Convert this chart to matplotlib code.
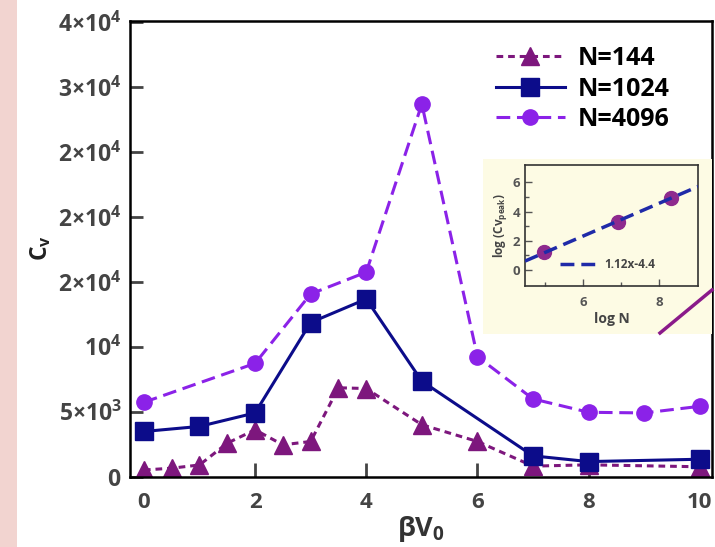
import matplotlib
matplotlib.use("Agg")
import matplotlib.pyplot as plt
from matplotlib.patches import Rectangle
from matplotlib.lines import Line2D
from matplotlib import font_manager as fm
import numpy as np


def pick_bold_family():
    cands = ['Open Sans', 'Noto Sans', 'Lato', 'Roboto', 'Liberation Sans', 'DejaVu Sans']
    for fam in cands:
        for f in fm.fontManager.ttflist:
            w = f.weight if isinstance(f.weight, int) else (700 if 'bold' in str(f.weight).lower() else 400)
            if f.name == fam and w >= 700 and '[' not in f.fname and f.style == 'normal' \
                    and f.stretch == 'normal':
                return fam, f.fname
    return 'DejaVu Sans', None


FAM, BOLD_FILE = pick_bold_family()
plt.rcParams['font.family'] = [FAM, 'DejaVu Sans']
plt.rcParams['font.weight'] = 'bold'
plt.rcParams['mathtext.fontset'] = 'custom'
plt.rcParams['mathtext.rm'] = FAM + ':bold'
plt.rcParams['mathtext.bf'] = FAM + ':bold'
plt.rcParams['mathtext.it'] = FAM + ':bold'
plt.rcParams['mathtext.default'] = 'rm'

# ---------------- data ----------------
x144 = [0, 0.5, 1, 1.5, 2, 2.5, 3, 3.5, 4, 5, 6, 7, 8, 10]
cv144 = [500, 640, 890, 2570, 3600, 2440, 2700, 6840, 6780, 3990, 2700, 800, 900, 750]

x1024 = [0, 1, 2, 3, 4, 5, 7, 8, 10]
cv1024 = [3470, 3860, 4900, 11870, 13680, 7350, 1590, 1150, 1330]

x4096 = [0, 2, 3, 4, 5, 6, 7, 8, 9, 10]
cv4096 = [5720, 8720, 14070, 15750, 28710, 9240, 5980, 4950, 4900, 5410]

labels = ['N=144', 'N=1024', 'N=4096']

yticks = [0, 5000, 10000, 15000, 20000, 25000, 30000, 35000]
yticklabels = [r'$0$', r'$5{\times}10^{3}$', r'$10^{4}$', r'$2{\times}10^{4}$',
               r'$2{\times}10^{4}$', r'$2{\times}10^{4}$', r'$3{\times}10^{4}$',
               r'$4{\times}10^{4}$']
xticks = [0, 2, 4, 6, 8, 10]

# inset data
logN = [4.97, 6.93, 8.32]
logCv = [1.2, 3.3, 4.9]
fit_slope, fit_icpt = 1.12, -4.4
fit_label = '1.12x-4.4'

# colors
c144 = '#7d177d'
c1024 = '#0c0c8a'
c4096 = '#8b22e8'

fig = plt.figure(figsize=(7.15, 5.47), dpi=100)
fig.patch.set_facecolor('white')

# left pink strip
fig.patches.append(Rectangle((0, 0), 17/715, 1, transform=fig.transFigure,
                             facecolor='#f2d4d0', edgecolor='none', zorder=0))

ax = fig.add_axes([130/715, (547-476.5)/547, (712-130)/715, (476.5-20.5)/547])
ax.set_zorder(1)

ax.plot(x144, cv144, color=c144, ls=(0, (2.2, 1.6)), lw=2.2, marker='^', ms=13.5,
        mfc=c144, mec=c144, label=labels[0])
ax.plot(x1024, cv1024, color=c1024, ls='-', lw=2.2, marker='s', ms=12.5,
        mfc=c1024, mec=c1024, label=labels[1])
ax.plot(x4096, cv4096, color=c4096, ls=(0, (4.5, 2.2)), lw=2.2, marker='o', ms=11,
        mfc=c4096, mec=c4096, label=labels[2])

ax.set_xlim(-0.25, 10.22)
ax.set_ylim(0, 35150)
ax.set_yticks(yticks)
ax.set_yticklabels(yticklabels)
ax.set_xticks(xticks)
ax.tick_params(axis='both', direction='in', width=2, colors='#444444')
ax.tick_params(axis='y', length=9, pad=6, labelsize=16.5)
ax.tick_params(axis='x', length=10, pad=11, labelsize=16)
for lab in ax.get_xticklabels() + ax.get_yticklabels():
    lab.set_fontweight('bold')
for s in ax.spines.values():
    s.set_linewidth(1.8)
    s.set_color('black')

ax.set_xlabel(r'$\beta$V$_0$', fontsize=19.5, fontweight='bold', color='#333333',
              labelpad=1)
ax.set_ylabel(r'C$_v$', fontsize=16.5, fontweight='bold', color='#222222',
              labelpad=4)

leg = fig.legend(loc='upper left', bbox_to_anchor=(496/715, 1-46/547),
                 frameon=False, prop={'size': 18, 'weight': 'bold'},
                 handlelength=2.75, handletextpad=0.5, labelspacing=0.22,
                 borderpad=0, borderaxespad=0)
for t in leg.get_texts():
    t.set_color('black')

# inset cream background
fig.patches.append(Rectangle((483/715, (547-334)/547), 229/715, 175/547,
                             transform=fig.transFigure, facecolor='#fdfbe4',
                             edgecolor='none', zorder=2))

# decorative diagonal stroke visible on the inset
deco = Line2D([660/715, 712/715], [1-333/547, 1-290/547], transform=fig.transFigure,
              color='#8a1a8a', lw=2.5, zorder=2.5)
fig.lines.append(deco)

ins = fig.add_axes([525/715, (547-286)/547, 173/715, 121/547])
ins.set_zorder(3)
ins.set_facecolor('#fdfbe4')
ins.set_xlim(4.47, 9.03)
ins.set_ylim(-1.1, 7.19)
xx = np.array(ins.get_xlim())
ins.plot(logN, logCv, ls='none', marker='o', ms=10, color='#8e2a8e', zorder=2)
ins.plot(xx, fit_slope*xx + fit_icpt, ls=(0, (4, 2)), lw=2.5, color='#1f2aa8',
         label=fit_label, zorder=3)
ins.set_xticks([6, 8])
ins.set_xticks([5, 7], minor=True)
ins.set_yticks([0, 2, 4, 6])
ins.set_yticks([1, 3, 5], minor=True)
ins.tick_params(which='both', direction='in', colors='#555555', labelsize=9.5,
                width=1)
ins.tick_params(which='major', length=5)
ins.tick_params(which='minor', length=3)
ins.tick_params(axis='x', pad=7)
for lab in ins.get_xticklabels() + ins.get_yticklabels():
    lab.set_fontweight('bold')
for s in ins.spines.values():
    s.set_linewidth(1.2)
    s.set_color('#333333')
ins.set_xlabel('log N', fontsize=10, fontweight='bold', color='#444444', labelpad=2)
ins.set_ylabel(r'log (Cv$_{\mathrm{peak}}$)', fontsize=8.5, fontweight='bold',
               color='#444444', labelpad=2)
il = ins.legend(loc='center left', bbox_to_anchor=(0.2, 0.18), frameon=False,
                prop={'size': 8.5, 'weight': 'bold'}, handlelength=3.0,
                handletextpad=0.8, borderpad=0, borderaxespad=0)
for t in il.get_texts():
    t.set_color('#444444')

fig.savefig('out.png', dpi=100)
